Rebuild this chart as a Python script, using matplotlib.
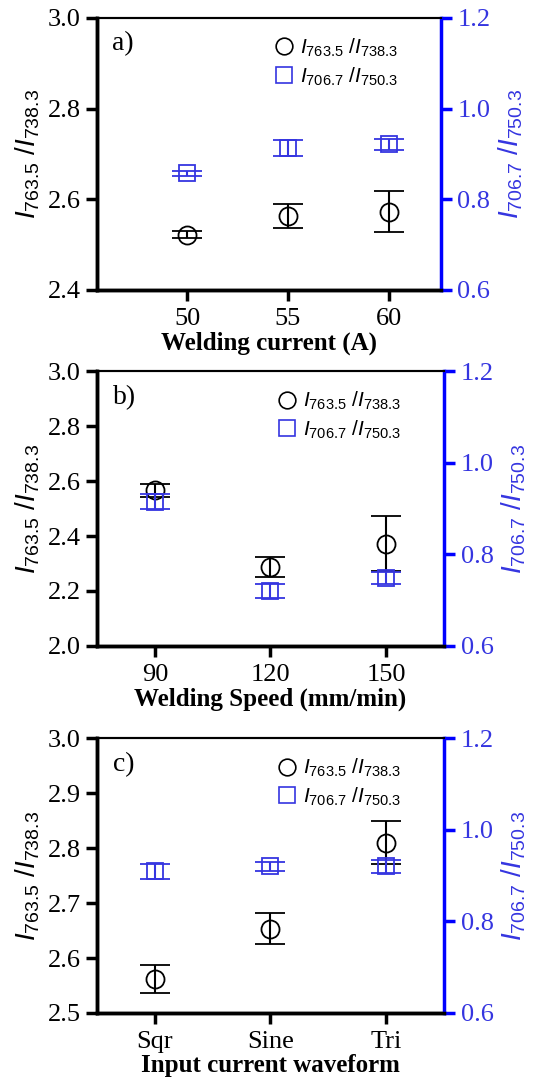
"""Three stacked panels: line-intensity ratios vs welding parameters (twin y axes)."""
import numpy as np
import matplotlib
matplotlib.use('Agg')
import matplotlib.pyplot as plt
from matplotlib.lines import Line2D

plt.rcParams['font.family'] = ['Liberation Serif', 'DejaVu Serif']
plt.rcParams['mathtext.fontset'] = 'custom'
plt.rcParams['mathtext.rm'] = 'Liberation Sans'
plt.rcParams['mathtext.it'] = 'Liberation Sans:italic'

BLUE = '#0000ff'
MBLUE = '#3535e0'

# panel a) welding current
a_x = [50, 55, 60]
a_r1 = [2.522, 2.563, 2.573]
a_r1_err = [0.008, 0.026, 0.046]
a_r2 = [0.857, 0.913, 0.921]
a_r2_err = [0.006, 0.017, 0.013]

# panel b) welding speed
b_x = [90, 120, 150]
b_r1 = [2.566, 2.287, 2.372]
b_r1_err = [0.024, 0.035, 0.100]
b_r2 = [0.915, 0.720, 0.748]
b_r2_err = [0.017, 0.015, 0.013]

# panel c) waveform
c_labels = ['Sqr', 'Sine', 'Tri']
c_r1 = [2.562, 2.653, 2.810]
c_r1_err = [0.026, 0.028, 0.039]
c_r2 = [0.909, 0.920, 0.920]
c_r2_err = [0.016, 0.010, 0.015]

LBL1 = r'$I_{763.5}\ /I_{738.3}$'
LBL2 = r'$I_{706.7}\ /I_{750.3}$'


def panel(fig, rect, x, r1, e1, r2, e2, xlim, xticks, xticklabels, ylim, yticks,
          xlabel, tag):
    ax = fig.add_axes(rect)
    ax2 = ax.twinx()

    ax.errorbar(x, r1, yerr=e1, fmt='o', mfc='none', mec='black', ms=13, mew=1.3,
                ecolor='black', elinewidth=1.5, capsize=11, capthick=1.5)
    ax2.errorbar(x, r2, yerr=e2, fmt='s', mfc='none', mec=MBLUE, ms=11, mew=1.3,
                 ecolor=MBLUE, elinewidth=1.5, capsize=11, capthick=1.5)

    ax.set_xlim(*xlim)
    ax.set_xticks(xticks)
    ax.set_xticklabels(xticklabels)
    ax.set_ylim(*ylim)
    ax.set_yticks(yticks)
    ax.yaxis.set_major_formatter(matplotlib.ticker.FormatStrFormatter('%.1f'))
    ax2.set_ylim(0.6, 1.2)
    ax2.set_yticks([0.6, 0.8, 1.0, 1.2])
    ax2.yaxis.set_major_formatter(matplotlib.ticker.FormatStrFormatter('%.1f'))

    for s in ['left', 'bottom']:
        ax.spines[s].set_linewidth(2.5)
        ax2.spines[s].set_linewidth(2.5)
    ax2.spines['right'].set_linewidth(2.5)
    ax2.spines['right'].set_color(BLUE)
    ax.spines['right'].set_visible(False)
    ax.spines['top'].set_linewidth(1.5)
    ax2.spines['top'].set_linewidth(1.5)

    ax.tick_params(axis='both', labelsize=19, width=2.5, length=8, direction='out')
    ax.tick_params(axis='x', pad=5)
    ax2.tick_params(axis='y', labelsize=19, width=2.5, length=8, colors=BLUE,
                    labelcolor=MBLUE, pad=4)

    ax.set_xlabel(xlabel, fontsize=18, fontweight='bold', labelpad=1)
    ax.set_ylabel(LBL1, fontsize=20, labelpad=4)
    ax2.set_ylabel(LBL2, fontsize=20, color=MBLUE, labelpad=4)

    ax.text(0.045, 0.95, tag, transform=ax.transAxes, fontsize=20, va='top')

    handles = [Line2D([], [], ls='none', marker='o', mfc='none', mec='black', ms=12, mew=1.2),
               Line2D([], [], ls='none', marker='s', mfc='none', mec=MBLUE, ms=11, mew=1.2)]
    ax2.legend(handles, [LBL1, LBL2], loc='upper right', bbox_to_anchor=(0.93, 1.0),
               frameon=False, fontsize=15, handletextpad=0.15, labelspacing=0.3,
               handlelength=1.2)
    return ax, ax2


fig = plt.figure(figsize=(5.33, 10.82), dpi=100)

panel(fig, [0.182, 0.732, 0.645, 0.2514], a_x, a_r1, a_r1_err, a_r2, a_r2_err,
      (45.5, 62.6), a_x, [str(v) for v in a_x], (2.4, 3.0), [2.4, 2.6, 2.8, 3.0],
      'Welding current (A)', 'a)')

panel(fig, [0.182, 0.403, 0.651, 0.254], b_x, b_r1, b_r1_err, b_r2, b_r2_err,
      (75, 165), b_x, [str(v) for v in b_x], (2.0, 3.0), [2.0, 2.2, 2.4, 2.6, 2.8, 3.0],
      'Welding Speed (mm/min)', 'b)')

c_x = np.arange(len(c_labels))
panel(fig, [0.182, 0.0638, 0.651, 0.254], c_x, c_r1, c_r1_err, c_r2, c_r2_err,
      (-0.5, 2.5), c_x, c_labels, (2.5, 3.0), [2.5, 2.6, 2.7, 2.8, 2.9, 3.0],
      'Input current waveform', 'c)')

fig.savefig('out.png', dpi=100)
print('Wrote out.png')
